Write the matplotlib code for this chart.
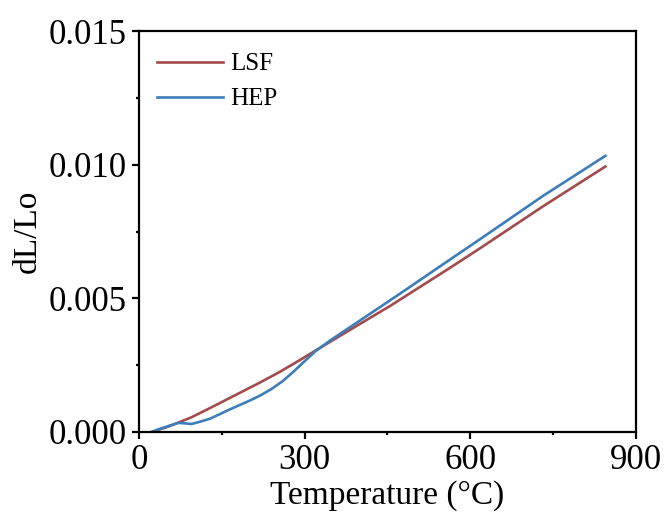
import numpy as np
import matplotlib
matplotlib.use('Agg')
import matplotlib.pyplot as plt
from matplotlib.ticker import MultipleLocator, FormatStrFormatter

plt.rcParams['font.family'] = ['Liberation Serif', 'DejaVu Serif']

# ---------------------------------------------------------------------------
# Dilatometry curves
# ---------------------------------------------------------------------------
temp_lsf = [23, 50, 71, 95, 129, 165, 219, 255, 292, 320, 382, 455,
            563, 618, 732, 845]
dl_lsf = [0.0, 0.00018, 0.00035, 0.00055, 0.00090, 0.00128, 0.00185,
          0.00225, 0.00270, 0.00305, 0.00382, 0.00472,
          0.00614, 0.00688, 0.00845, 0.00994]

temp_hep = [23, 35, 50, 71, 80, 95, 110, 129, 165, 200, 219, 240, 260,
            280, 300, 320, 350, 382, 473, 563, 618, 732, 845]
dl_hep = [0.0, 0.00010, 0.00020, 0.00034, 0.00033, 0.00030, 0.00038,
          0.00050, 0.00085, 0.00117, 0.00136, 0.00161, 0.00190,
          0.00226, 0.00265, 0.00303, 0.00348, 0.00392, 0.00518,
          0.00645, 0.00722, 0.00884, 0.01034]

RED = '#A34A4C'
BLUE = '#3C7DBA'

fig = plt.figure(figsize=(6.65, 5.23), dpi=100)
ax = fig.add_axes([0.209, 0.174, 0.747, 0.766])

ax.plot(temp_lsf, dl_lsf, color=RED, linewidth=1.9, label='LSF')
ax.plot(temp_hep, dl_hep, color=BLUE, linewidth=1.9, label='HEP')

ax.set_xlim(0, 900)
ax.set_ylim(0, 0.015)
ax.xaxis.set_major_locator(MultipleLocator(300))
ax.xaxis.set_minor_locator(MultipleLocator(150))
ax.yaxis.set_major_locator(MultipleLocator(0.005))
ax.yaxis.set_minor_locator(MultipleLocator(0.0025))
ax.yaxis.set_major_formatter(FormatStrFormatter('%.3f'))

for s in ax.spines.values():
    s.set_linewidth(1.6)
ax.tick_params(which='major', direction='out', length=5, width=1.6,
               labelsize=25, pad=4)
ax.tick_params(which='minor', direction='out', length=2.5, width=1.6)
ax.tick_params(top=False, right=False, which='both')

ax.set_xlabel('Temperature (\u00b0C)', fontsize=24, labelpad=2)
ax.set_ylabel('dL/Lo', fontsize=24, labelpad=4)

ax.legend(loc='upper left', bbox_to_anchor=(0.0, 0.991), frameon=False,
          fontsize=18, handlelength=2.64, handletextpad=0.3,
          labelspacing=0.5, borderaxespad=0.32)

fig.savefig('out.png', dpi=100)
plt.close(fig)
